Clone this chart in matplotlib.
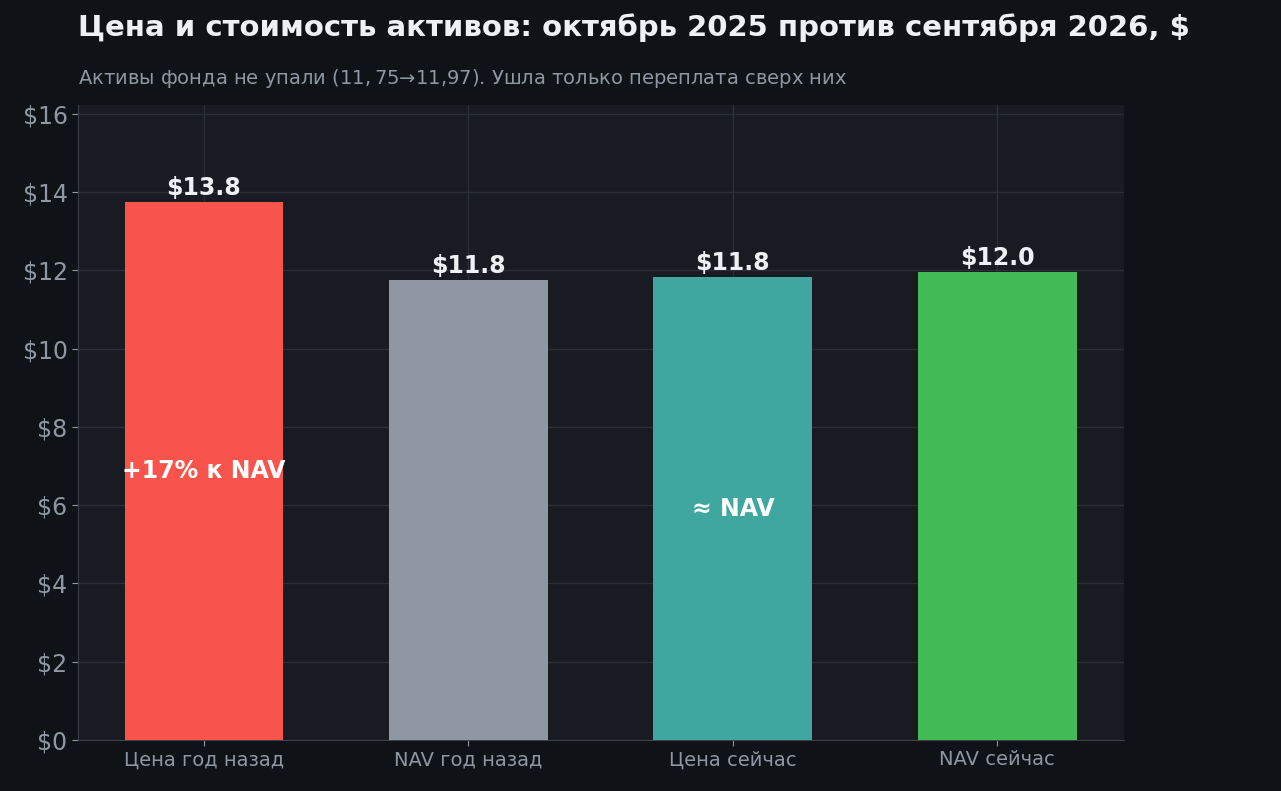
import matplotlib
matplotlib.use("Agg")
import matplotlib.pyplot as plt

categories = ["Цена год назад", "NAV год назад", "Цена сейчас", "NAV сейчас"]
values = [13.75, 11.75, 11.83, 11.97]
colors = ["#f9544b", "#8f97a2", "#40a6a0", "#42ba55"]
inner = {0: "+17% к NAV", 2: "≈ NAV"}
yticks = [0, 2, 4, 6, 8, 10, 12, 14, 16]

plt.rcParams['font.family'] = ['DejaVu Sans']
fig = plt.figure(figsize=(12.81, 7.91), dpi=100, facecolor="#0f1317")
ax = fig.add_axes([78/1281, 1-740/791, (1124-78)/1281, (740-105)/791])
ax.set_facecolor("#181b22")
x = list(range(len(categories)))
ax.bar(x, values, width=0.6, color=colors, zorder=3)
for i, v in enumerate(values):
    ax.text(i, v + 0.05, f"${v:.1f}", ha="center", va="bottom", color="#eef0f4",
            fontsize=17, fontweight="bold", zorder=4)
    if i in inner:
        ax.text(i, v/2, inner[i], ha="center", va="center", color="white",
                fontsize=17, fontweight="bold", zorder=4)
ax.set_xlim(-0.476, 3.479)
ax.set_ylim(0, 16.23)
ax.set_yticks(yticks)
ax.set_yticklabels([f"${t}" for t in yticks])
ax.set_xticks(x)
ax.set_xticklabels(categories)
ax.tick_params(axis="y", colors="#8f97a2", labelsize=17, length=4)
ax.tick_params(axis="x", colors="#8f97a2", labelsize=14, length=4)
for t in ax.get_yticklabels():
    t.set_color("#8f97a2")
ax.grid(True, color="#2a2e36", linewidth=1, zorder=0)
for s in ["top", "right"]:
    ax.spines[s].set_visible(False)
for s in ["left", "bottom"]:
    ax.spines[s].set_color("#3a3f48")
fig.text(78/1281, 1-28/791, "Цена и стоимость активов: октябрь 2025 против сентября 2026, $",
         color="#eef0f4", fontsize=21, fontweight="bold", va="center", ha="left")
fig.text(78/1281, 1-78/791, "Активы фонда не упали ($11,75 → $11,97). Ушла только переплата сверх них",
         color="#8f97a2", fontsize=14, va="center", ha="left")
fig.savefig("out.png", dpi=100, facecolor=fig.get_facecolor())
